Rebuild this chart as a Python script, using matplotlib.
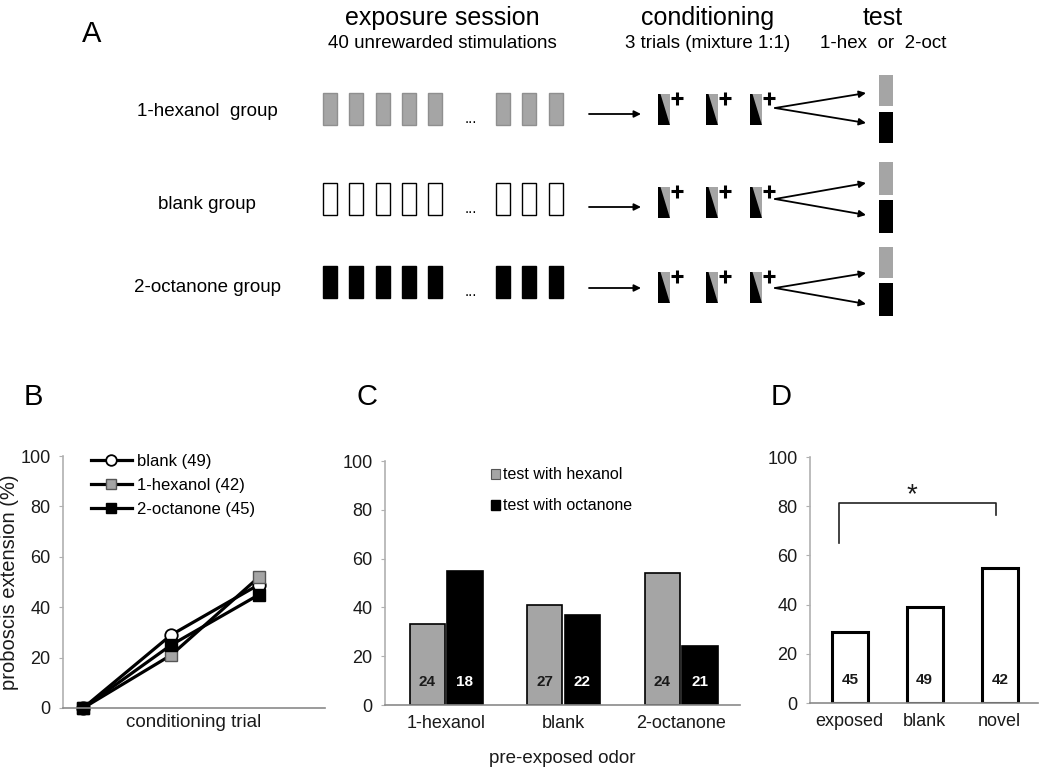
import numpy as np
import matplotlib.pyplot as plt
from matplotlib.patches import Rectangle, Polygon, Patch

plt.rcParams['font.family'] = ['Liberation Sans', 'DejaVu Sans']

# ---- data ----
groups = ['1-hexanol  group', 'blank group', '2-octanone group']
exp_colors = ['#a5a5a5', 'white', 'black']

trials = [1, 2, 3]
blank = [0, 29, 49]
hexanol = [0, 21, 52]
octanone = [0, 25, 45]
b_labels = ['blank (49)', '1-hexanol (42)', '2-octanone (45)']

odors = ['1-hexanol', 'blank', '2-octanone']
test_hex = [33, 41, 54]
test_oct = [55, 37, 24]
n_hex = [24, 27, 24]
n_oct = [18, 22, 21]

d_cats = ['exposed', 'blank', 'novel']
d_vals = [29, 39, 55]
d_n = [45, 49, 42]

GRAY = '#a5a5a5'
TXT = '#1a1a1a'

fig = plt.figure(figsize=(10.5, 7.81), dpi=100)

# ---- panel A: schematic in pixel coordinates ----
axA = fig.add_axes([0, 0, 1, 1])
axA.set_xlim(0, 1050)
axA.set_ylim(781, 0)
axA.axis('off')

axA.text(92, 42, 'A', fontsize=21, ha='center', va='baseline')
axA.text(442, 25, 'exposure session', fontsize=18, ha='center', va='baseline')
axA.text(442, 48, '40 unrewarded stimulations', fontsize=13.5, ha='center', va='baseline')
axA.text(708, 25, 'conditioning', fontsize=18, ha='center', va='baseline')
axA.text(708, 48, '3 trials (mixture 1:1)', fontsize=13.5, ha='center', va='baseline')
axA.text(883, 25, 'test', fontsize=18, ha='center', va='baseline')
axA.text(883, 48, '1-hex  or  2-oct', fontsize=13.5, ha='center', va='baseline')

row_top = [93, 183, 266]
cond_top = [94, 187, 272]
arrow_y = [114, 207, 288]
fork_y = [(108, 93, 123), (199, 183, 215), (288, 273, 304)]
test_gray = [(75, 106), (162, 195), (247, 278)]
test_black = [(112, 143), (200, 233), (283, 316)]
label_y = [116, 209, 292]

exp_x = [323 + 26.3 * i for i in range(5)] + [496 + 26.3 * i for i in range(3)]
cond_x = [658, 706, 750]

for r in range(3):
    axA.text(207, label_y[r], groups[r], fontsize=13.5, ha='center', va='baseline')
    fc = exp_colors[r]
    ec = '#8f8f8f' if r == 0 else 'black'
    for x in exp_x:
        axA.add_patch(Rectangle((x, row_top[r]), 14, 32, facecolor=fc,
                                edgecolor=ec, lw=1.0))
    axA.text(471, row_top[r] + 30, '...', fontsize=11, ha='center', va='baseline')
    axA.annotate('', xy=(641, arrow_y[r]), xytext=(589, arrow_y[r]),
                 arrowprops=dict(arrowstyle='-|>', color='k', lw=1.3,
                                 mutation_scale=10, shrinkA=0, shrinkB=0))
    t = cond_top[r]
    for x in cond_x:
        w, h = 12, 31
        axA.add_patch(Polygon([(x, t), (x + w, t), (x + w, t + h)],
                              closed=True, facecolor=GRAY, edgecolor='none'))
        axA.add_patch(Polygon([(x, t), (x + 2.5, t), (x + w, t + h), (x, t + h)],
                              closed=True, facecolor='black', edgecolor='none'))
        cx, cy = x + w + 7, t + 4
        axA.plot([cx - 6, cx + 6], [cy, cy], color='k', lw=2.2, solid_capstyle='butt')
        axA.plot([cx, cx], [cy - 6.5, cy + 6.5], color='k', lw=2.2, solid_capstyle='butt')
    oy, uy, ly = fork_y[r]
    for ey in (uy, ly):
        axA.annotate('', xy=(866, ey), xytext=(775, oy),
                     arrowprops=dict(arrowstyle='-|>', color='k', lw=1.3,
                                     mutation_scale=10, shrinkA=0, shrinkB=0))
    g0, g1 = test_gray[r]
    b0, b1 = test_black[r]
    axA.add_patch(Rectangle((879, g0), 14, g1 - g0, facecolor=GRAY, edgecolor='none'))
    axA.add_patch(Rectangle((879, b0), 14, b1 - b0, facecolor='black', edgecolor='none'))


def style_axes(ax):
    for s in ['top', 'right']:
        ax.spines[s].set_visible(False)
    ax.spines['left'].set_color('#b0b0b0')
    ax.spines['bottom'].set_color('#8a8a8a')
    ax.spines['left'].set_linewidth(1.2)
    ax.spines['bottom'].set_linewidth(1.2)
    ax.set_ylim(0, 100)
    ax.set_yticks([0, 20, 40, 60, 80, 100])
    ax.tick_params(axis='y', length=3, color='#b0b0b0', labelsize=13,
                   labelcolor=TXT, pad=6)
    ax.tick_params(axis='x', length=0, labelsize=13, labelcolor=TXT, pad=7)
    ax.patch.set_alpha(0)


# ---- panel B ----
axB = fig.add_axes([63 / 1050, 73 / 781, 262 / 1050, 252 / 781])
style_axes(axB)
axB.set_xlim(0.77, 3.75)
axB.set_xticks([])
axB.plot(trials, blank, '-o', color='black', lw=2.3, ms=9, mfc='white',
         mec='black', mew=1.3, clip_on=False, label=b_labels[0])
axB.plot(trials, hexanol, '-s', color='black', lw=2.3, ms=9, mfc=GRAY,
         mec='#555555', mew=1.0, clip_on=False, label=b_labels[1])
axB.plot(trials, octanone, '-s', color='black', lw=2.3, ms=9, mfc='black',
         mec='black', mew=1.0, clip_on=False, label=b_labels[2])
axB.legend(loc='upper left', bbox_to_anchor=(0.08, 1.035), frameon=False,
           fontsize=12, handlelength=2.5, handletextpad=0.3,
           labelspacing=0.55, borderaxespad=0, markerscale=0.85)
axB.set_xlabel('conditioning trial', fontsize=13.5, color=TXT, labelpad=4)
axB.set_ylabel('proboscis extension (%)', fontsize=14.5, color=TXT, labelpad=1)

# ---- panel C ----
axC = fig.add_axes([385 / 1050, 76 / 781, 355 / 1050, 244 / 781])
style_axes(axC)
xc = np.arange(len(odors))
bw = 0.3
axC.bar(xc - 0.16, test_hex, bw, color=GRAY, edgecolor='black', lw=1.2,
        label='test with hexanol')
axC.bar(xc + 0.16, test_oct, bw, color='black', edgecolor='black', lw=1.2,
        label='test with octanone')
for i in range(len(odors)):
    axC.text(xc[i] - 0.16, 9.5, str(n_hex[i]), ha='center', va='center',
             fontsize=11, fontweight='bold', color=TXT)
    axC.text(xc[i] + 0.16, 9.5, str(n_oct[i]), ha='center', va='center',
             fontsize=11, fontweight='bold', color='white')
axC.set_xlim(-0.52, 2.5)
axC.set_xticks(xc)
axC.set_xticklabels(odors)
axC.set_xlabel('pre-exposed odor', fontsize=13.5, color=TXT, labelpad=13)
hC = [Patch(facecolor=GRAY, edgecolor='#555555', lw=0.8),
      Patch(facecolor='black', edgecolor='black')]
axC.legend(hC, ['test with hexanol', 'test with octanone'], loc='upper left',
           bbox_to_anchor=(0.28, 1.0), frameon=False, fontsize=11.5,
           handlelength=0.6, handleheight=0.6, handletextpad=0.15,
           labelspacing=1.0, borderaxespad=0)

# ---- panel D ----
axD = fig.add_axes([810 / 1050, 78 / 781, 228 / 1050, 246 / 781])
style_axes(axD)
xd = np.arange(len(d_cats))
axD.bar(xd, d_vals, 0.48, color='white', edgecolor='black', lw=2.2)
for i in range(len(d_cats)):
    axD.text(xd[i], 9.5, str(d_n[i]), ha='center', va='center',
             fontsize=11, fontweight='bold', color=TXT)
axD.set_xlim(-0.53, 2.51)
axD.set_xticks(xd)
axD.set_xticklabels(d_cats)
axD.plot([-0.15, -0.15, 1.95, 1.95], [65, 81.3, 81.3, 76.5], color='#222222', lw=1.2)
axD.text(0.83, 79, '*', ha='center', va='bottom', fontsize=20, color=TXT)

# panel letters
fig.text(33 / 1050, 1 - 405 / 781, 'B', fontsize=21, ha='center', va='baseline')
fig.text(367 / 1050, 1 - 405 / 781, 'C', fontsize=21, ha='center', va='baseline')
fig.text(781 / 1050, 1 - 405 / 781, 'D', fontsize=21, ha='center', va='baseline')

fig.savefig('out.png', dpi=100)
